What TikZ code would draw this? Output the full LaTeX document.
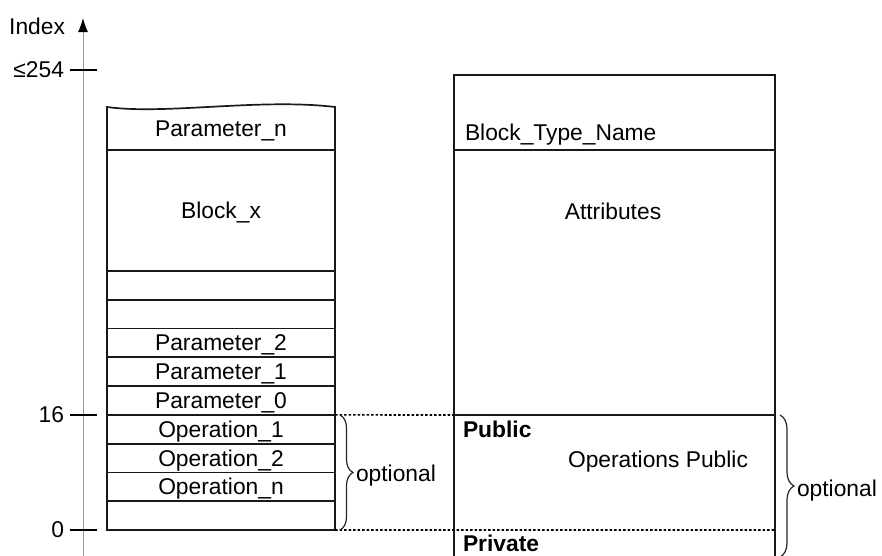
\documentclass[tikz,border=0pt]{standalone}
\usepackage{fontspec}
\setmainfont{Liberation Sans}
\usetikzlibrary{positioning, arrows.meta, decorations.pathreplacing}

\begin{document}
\begin{tikzpicture}[x=1pt, y=-1pt,
    every node/.style={
        font=\fontsize{22.8}{27}\selectfont,
        inner sep=0pt,
        outer sep=0pt},
    cell/.style={
        draw=black!90,
        line width=1.7pt,
        minimum width=228pt,
        minimum height=28.78pt,
        text height=16pt,
        text depth=0pt},
    frame/.style={draw=black!90, line width=1.7pt},
    tick/.style={draw=black, line width=2pt},
    dotline/.style={draw=black, line width=1.6pt, dash pattern=on 2.5pt off 2pt},
    heading/.style={anchor=base west, font=\fontsize{22.8}{27}\selectfont\bfseries},
    curly/.style={draw=black!85, line width=1.2pt, decorate,
        decoration={brace, amplitude=#1}}]

    \useasboundingbox (0,0) rectangle (882,555);
    \clip (0,0) rectangle (882,555);

    % index axis
    \draw[gray!80, line width=1pt, -{Latex[length=14pt, width=10pt, color=black]}] (83,560) -- (83,18);
    \node[anchor=east] (index) at (65,26) {Index};

    \foreach \y/\lbl in {70/≤254, 415/16, 530/0} {
        \draw[tick] (70,\y) -- (97,\y);
        \node[anchor=east] (mark\y) at (64,\y) {\lbl};
    }

    % parameter block
    \node[cell, draw=none, minimum height=43pt] (parn) at (221,128.5) {Parameter\_n};
    \node[cell, minimum height=121pt, text height=, below=0pt of parn] (blockx) {Block\_x};
    \node[cell, below=0pt of blockx] (free1) {};
    \node[cell, below=0pt of free1] (free2) {};
    \node[cell, below=0pt of free2] (par2) {Parameter\_2};
    \node[cell, below=0pt of par2] (par1) {Parameter\_1};
    \node[cell, below=0pt of par1] (par0) {Parameter\_0};
    \node[cell, below=0pt of par0] (op1) {Operation\_1};
    \node[cell, below=0pt of op1] (op2) {Operation\_2};
    \node[cell, below=0pt of op2] (opn) {Operation\_n};
    \node[cell, below=0pt of opn] (free3) {};

    \draw[frame] (parn.south west) -- (parn.north west)
        .. controls ([shift={(58,8)}]parn.north west) and ([shift={(-75,-9)}]parn.north east)
        .. (parn.north east) -- (parn.south east);

    % block type
    \coordinate (pubend) at (775,530);
    \node[frame, minimum width=321pt, minimum height=75pt, anchor=north west] (typehead) at (454,75) {};
    \node[frame, minimum width=321pt, minimum height=265pt, below=0pt of typehead] (attrs) {};
    \draw[frame] (attrs.south west) -- (454,560);
    \draw[frame] (attrs.south east) -- (775,560);

    \node[anchor=base west] (typename) at (465,140) {Block\_Type\_Name};
    \node (attrtext) at (613,211) {Attributes};
    \node[heading] (pub) at (463,437) {Public};
    \node[anchor=base] (pubops) at (658,467) {Operations Public};
    \node[heading] (priv) at (463,551) {Private};

    \draw[dotline] (par0.south east) -- (attrs.south west);
    \draw[dotline] (free3.south east) -- (pubend);

    % optional parts
    \draw[curly=13pt] (340,415) -- (340,530);
    \node[anchor=west] (opt1) at (356,476) {optional};
    \draw[curly=14pt] (780,415) -- (780,557);
    \node[anchor=west] (opt2) at (797,491) {optional};
\end{tikzpicture}
\end{document}
